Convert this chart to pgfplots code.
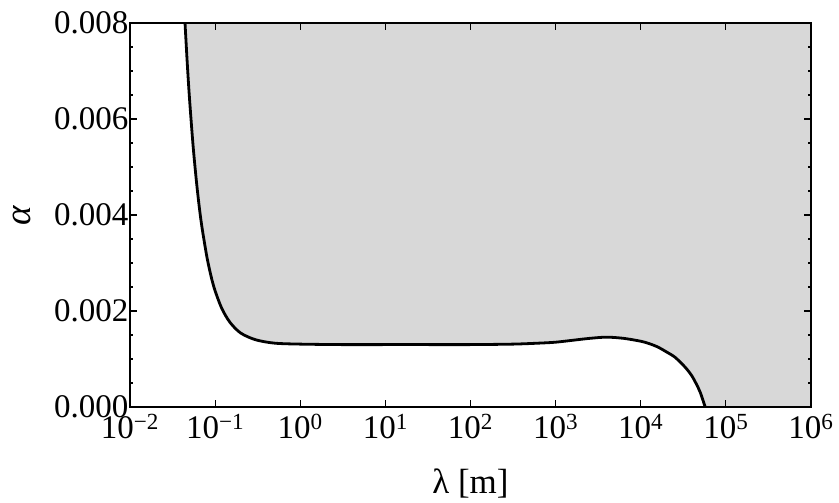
\documentclass[border=0pt]{standalone}
\usepackage{fontspec}
\setmainfont{Liberation Serif}
\usepackage{pgfplots}
\usepackage{pgfplotstable}
\pgfplotsset{compat=1.18}
\definecolor{fillgray}{RGB}{216,216,216}
\pgfplotstableread{
x y
0.0443 0.00800
0.047 0.00718
0.050 0.00643
0.055 0.00546
0.060 0.00474
0.065 0.00418
0.070 0.00375
0.080 0.00313
0.090 0.00271
0.100 0.00242
0.120 0.00205
0.150 0.00176
0.200 0.00154
0.300 0.00140
0.500 0.00133
1.0 0.00131
3.0 0.00130
10 0.00130
30 0.00130
100 0.00130
316 0.00131
631 0.00133
1000 0.00135
1585 0.00139
2512 0.00143
3981 0.001455
6310 0.00143
10000 0.00137
12589 0.00132
15849 0.00125
19953 0.00115
25119 0.00104
31623 0.00087
35481 0.00077
39811 0.00065
44668 0.00049
50119 0.00030
57148 0.0
}\curve
\begin{document}
\fontsize{33}{38}\selectfont
\begin{tikzpicture}
\begin{axis}[
  at={(0pt,0pt)}, anchor=south west,
  width=681pt, height=384pt, scale only axis,
  xmode=log, xmin=1e-2, xmax=1e6, ymin=0, ymax=0.008,
  xtick={1e-2,1e-1,1,10,100,1e3,1e4,1e5,1e6},
  xticklabels={10\textsuperscript{−2},10\textsuperscript{−1},10\textsuperscript{0},10\textsuperscript{1},10\textsuperscript{2},10\textsuperscript{3},10\textsuperscript{4},10\textsuperscript{5},10\textsuperscript{6}},
  xminorticks=false,
  ytick={0,0.002,0.004,0.006,0.008},
  minor y tick num=3,
  scaled y ticks=false,
  yticklabel style={inner xsep=1.5pt, /pgf/number format/.cd, fixed, fixed zerofill, precision=3, assume math mode=true},
  tick align=inside,
  major tick length=7pt, minor tick length=3.5pt,
  axis line style={line width=1.3pt},
  every tick/.style={line width=1.2pt, black},
  tick label style={font=\fontsize{33}{38}\selectfont},
  xticklabel style={inner ysep=2pt, yshift=-5pt},
  xlabel={λ [m]},
  xlabel style={font=\fontsize{35}{40}\selectfont, at={(axis description cs:0.5,-0.224)}, anchor=base},
  ylabel={\textit{α}},
  ylabel style={font=\fontsize{37}{40}\selectfont, at={(axis description cs:-0.1586,0.5)}, anchor=center},
  axis on top,
]
\addplot[fill=fillgray, draw=none, smooth] table[x=x,y=y] {\curve}
  -- (axis cs:1e6,0) -- (axis cs:1e6,0.008) -- cycle;
\addplot[black, line width=2.8pt, smooth] table[x=x,y=y] {\curve};
\end{axis}
\pgfresetboundingbox
\path[use as bounding box] (-130pt,-96pt) rectangle (709pt,407pt);
\end{tikzpicture}
\end{document}
